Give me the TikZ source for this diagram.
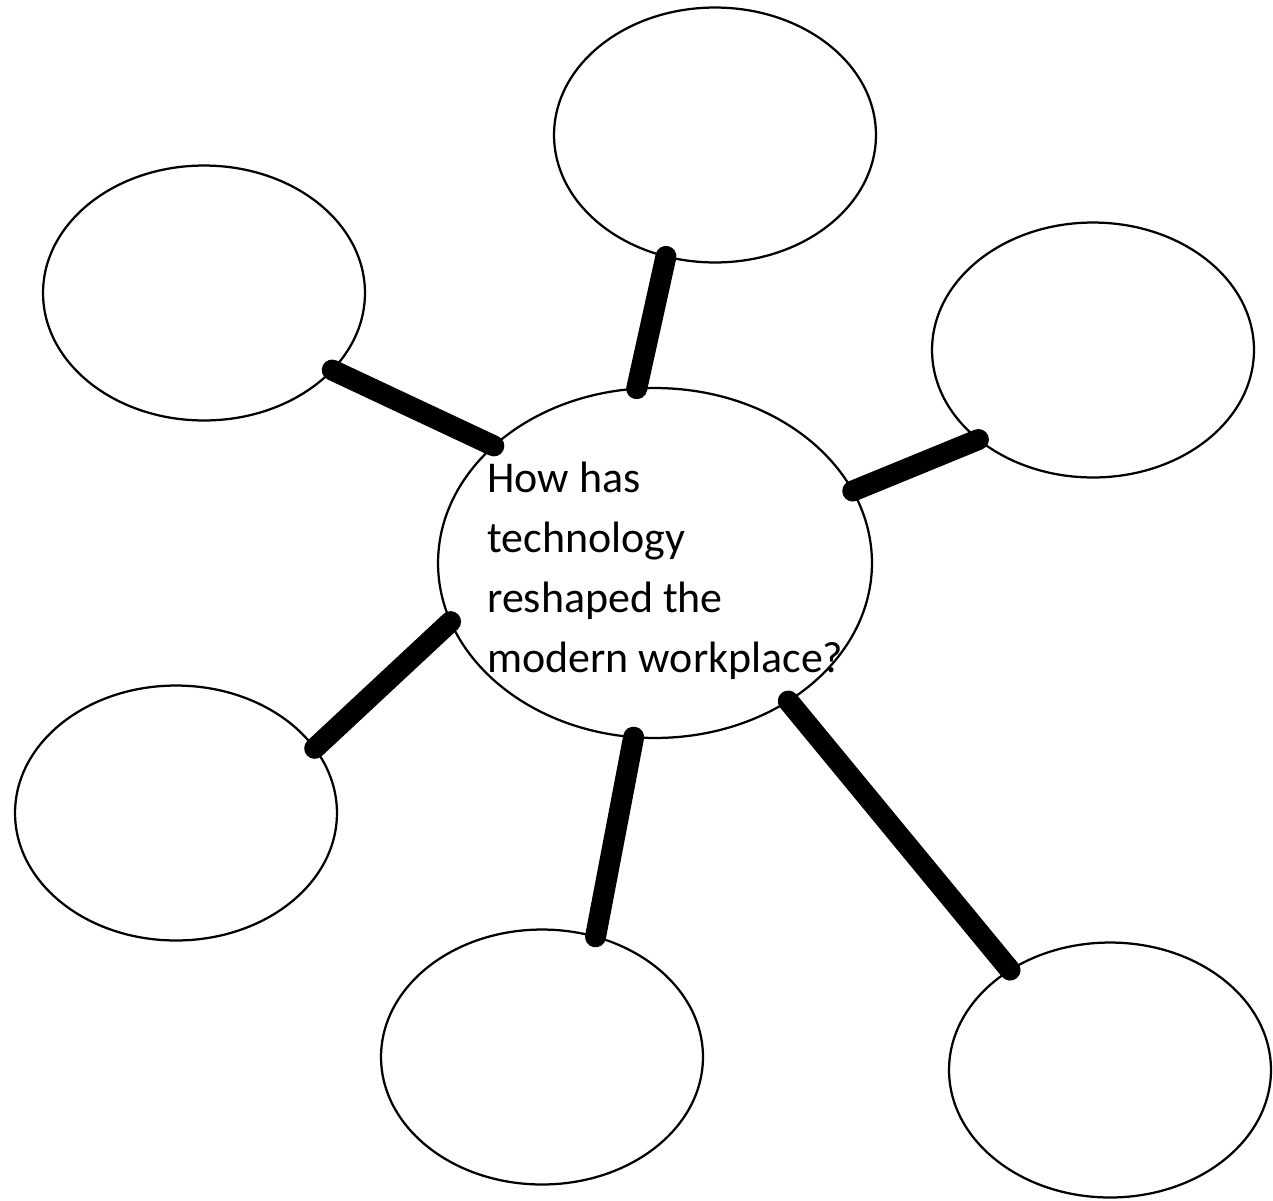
\documentclass[tikz,border=0pt]{standalone}
\usepackage{fontspec}
\setmainfont{Carlito}
\usetikzlibrary{shapes.geometric}
\begin{document}
\begin{tikzpicture}[x=0.02cm,y=-0.02cm,
  bubble/.style={draw=black,line width=0.045cm,ellipse,inner sep=0pt,outer sep=0pt,
    minimum width=6.44cm,minimum height=5.1cm},
  hub/.style={draw=black,line width=0.045cm,ellipse,inner sep=0pt,outer sep=0pt,
    minimum width=8.68cm,minimum height=7.0cm},
  spoke/.style={line width=0.42cm,line cap=round,black},
  question/.style={align=left,inner sep=0pt,anchor=north west,
    font=\fontsize{25}{34.1}\selectfont}]
\useasboundingbox[fill=white] (0,0) rectangle (1273,1200);
\node[hub] (c) at (655,563) {};
\node[bubble] (t) at (715,135) {};
\node[bubble] (tl) at (204,293) {};
\node[bubble] (r) at (1093,350) {};
\node[bubble] (bl) at (176,813) {};
\node[bubble] (b) at (542,1057) {};
\node[bubble] (br) at (1110,1070) {};
\draw[spoke] (t.-112.2) -- (c.96.2);
\draw[spoke] (tl.-31.2) -- (c.144.8);
\draw[spoke] (r.-142.7) -- (c.20.6);
\draw[spoke] (c.-164.5) -- (bl.25.3);
\draw[spoke] (c.-97.7) -- (b.66.9);
\draw[spoke] (c.-46.0) -- (br.135.3);
\node[question] (q) at (487,462) {How has\\technology\\reshaped the\\modern workplace?};
\end{tikzpicture}
\end{document}
